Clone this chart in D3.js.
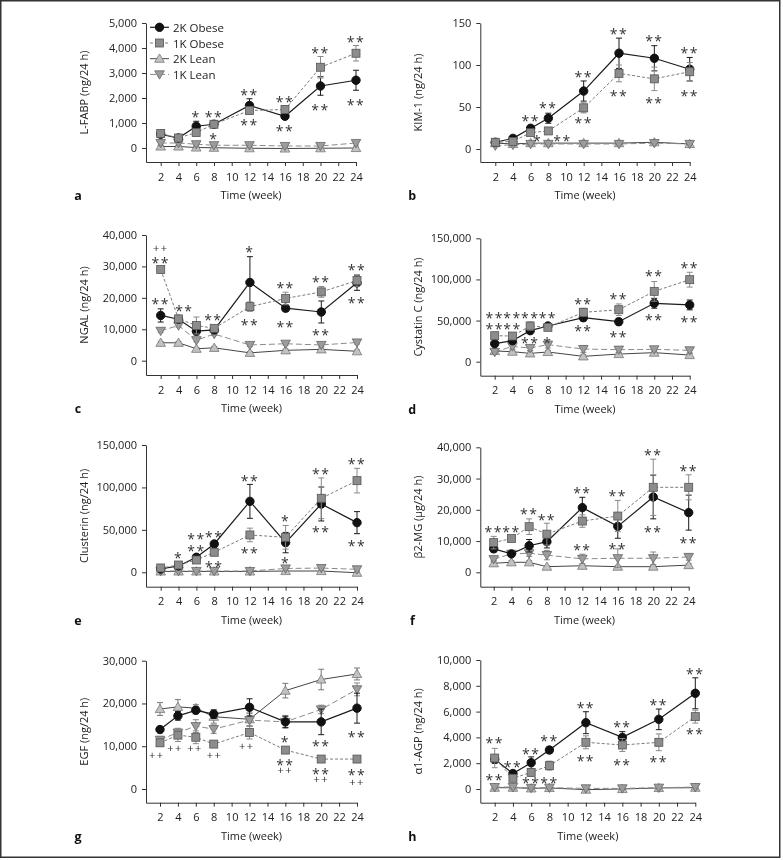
<!DOCTYPE html>
<html><head><meta charset="utf-8">
<script src="https://cdn.jsdelivr.net/npm/d3@7"></script>
<style>
body{margin:0;background:#fff;}
svg{display:block;font-family:"Open Sans",sans-serif;will-change:transform;}
</style></head>
<body><svg id="c" width="783" height="860"></svg>
<script>
const weeks = [2,4,6,8,12,16,20,24];
const xTickValues = [2,4,6,8,10,12,14,16,18,20,22,24];
const seriesNames = ["2K Obese","1K Obese","2K Lean","1K Lean"];

const lfabpMean = [[550,400,870,950,1700,1270,2480,2710],[580,400,620,950,1500,1540,3230,3790],[60,60,20,10,-10,-20,-10,0],[200,200,150,110,110,80,80,200]];
const lfabpErr  = [[60,50,200,80,270,100,370,400],[60,60,100,80,150,150,430,310],[40,40,40,40,40,40,40,40],[80,80,60,50,50,40,40,80]];
const lfabpTicks = [0,1000,2000,3000,4000,5000];
const lfabpSig = [[6,1380,"*"],[8,1380,"**"],[8,510,"*"],[12,2280,"**"],[12,1060,"**"],[16,1970,"**"],[16,820,"**"],[20,3950,"**"],[20,1680,"**"],[24,4400,"**"],[24,1850,"**"]];

const kimMean = [[8,12.7,24.7,36.6,69,114,108,95],[8,9,19.5,21.5,49,90,83.5,92],[7,6,7,7,7,7,8,6],[4,5,6,6,6,6,7,6]];
const kimErr  = [[1,2,3,6,12,18,15,14],[1,1,2,2,6,10,14,11],[1,1,1,1,1,1,1,1],[1,1,1,1,1,1,1,1]];
const kimTicks = [0,50,100,150];
const kimSig = [[6,37.4,"**"],[8,52.9,"**"],[6.8,13.9,"*"],[9.6,13.9,"**"],[12,90.3,"**"],[12,34.6,"**"],[16,140.9,"**"],[16,67.6,"**"],[20,132.9,"**"],[20,59.3,"**"],[24,119,"**"],[24,67.6,"**"]];

const ngalMean = [[14400,13200,9400,9800,24900,16700,15500,24800],[29000,13300,11200,10300,17200,19800,21900,25500],[5700,5700,3800,4100,2500,3300,3600,3000],[9500,11200,6500,8500,5000,5400,5000,5800]];
const ngalErr  = [[2100,800,1200,900,8200,1000,3500,2400],[800,700,2700,900,1500,2000,1700,1800],[400,400,400,400,400,400,400,400],[500,500,500,500,500,500,500,500]];
const ngalTicks = [0,10000,20000,30000,40000];
const ngalSig = [[2,35800,"++"],[2,32300,"**"],[2,19100,"**"],[4.65,16900,"**"],[7.9,14200,"**"],[12,35800,"*"],[12,12600,"**"],[16,24100,"**"],[16,11700,"**"],[20,26200,"**"],[20,9400,"**"],[24,29900,"**"],[24,19500,"**"]];

const cysMean = [[21900,25500,37700,43400,53500,48600,71000,69000],[31600,31200,43400,41800,60000,63200,85500,99700],[13000,12200,10100,11800,6500,9300,11000,8100],[11800,18600,16600,20700,15400,14600,15000,13800]];
const cysErr  = [[2000,2000,3000,3000,4000,4000,6000,6000],[3000,3000,5000,4000,5000,7000,12000,9000],[2000,2000,3000,2000,2000,2000,2000,2000],[2000,3000,3000,4000,4000,3000,3000,3000]];
const cysTicks = [0,50000,100000,150000];
const cysSig = [[2,57600,"**"],[4,57600,"**"],[6,57600,"**"],[8,57600,"**"],[2,44600,"**"],[4,44600,"**"],[6,27200,"**"],[8,27200,"*"],[12,73800,"**"],[12,41300,"**"],[16,80300,"**"],[16,34500,"**"],[20,108200,"**"],[20,54700,"**"],[24,117600,"**"],[24,52700,"**"]];

const cluMean = [[3900,7500,17700,33400,83600,35000,80500,58500],[5100,8600,14500,23600,44000,41200,87200,108000],[1000,1000,1000,1000,1000,1500,1500,-500],[1500,1500,1500,1500,1500,4500,5000,3500]];
const cluErr  = [[1000,1500,2000,3000,20000,12000,20000,13000],[1000,2000,3000,4000,8000,14000,24000,14500],[800,800,800,800,800,800,800,2000],[800,800,800,800,800,2000,2000,3000]];
const cluTicks = [0,50000,100000,150000];
const cluSig = [[4,21200,"*"],[6,42800,"**"],[8,45900,"**"],[6,29400,"**"],[8,10600,"**"],[12,111500,"**"],[12,26300,"**"],[16,64800,"*"],[16,14500,"*"],[20,120500,"**"],[20,51800,"**"],[24,132300,"**"],[24,34900,"**"]];

const b2mMean = [[7500,5900,8500,9800,20700,14700,24100,19100],[9500,10800,14600,12200,16400,18000,27200,27200],[2900,3200,3200,1800,2100,1800,1800,2300],[4200,5900,6100,5500,4300,4500,4500,4900]];
const b2mErr  = [[1000,600,2000,2000,3300,3800,7000,5600],[2000,600,2500,3500,2000,5000,9000,4000],[800,500,500,300,300,300,300,500],[800,800,1000,1500,1500,3000,2000,1000]];
const b2mTicks = [0,10000,20000,30000,40000];
const b2mSig = [[2,14100,"**"],[4,14100,"**"],[6,19700,"**"],[8,18000,"**"],[12,26600,"**"],[12,8200,"**"],[16,25600,"**"],[16,8700,"**"],[20,38600,"**"],[20,13900,"**"],[24,33600,"**"],[24,10600,"**"]];

const egfMean = [[13900,17100,18400,17500,19100,15700,15700,18900],[10800,12600,12100,10500,13200,9100,7000,7000],[18700,19200,18900,16900,16300,23000,25600,26900],[11500,13200,14700,14000,16100,15700,18600,23300]];
const egfErr  = [[500,1000,800,1000,2000,1300,3000,3500],[800,1500,1500,700,1500,500,400,400],[1500,1700,800,1500,1500,1700,2400,1400],[800,1000,1500,1000,1500,1500,1000,1500]];
const egfTicks = [0,10000,20000,30000];
const egfSig = [[1.63,7950,"++"],[3.67,9660,"++"],[5.9,9660,"++"],[8.1,7950,"++"],[11.7,10050,"++"],[16,11700,"*"],[16,6400,"**"],[16,4440,"++"],[20,10900,"**"],[20,4440,"**"],[20,2260,"++"],[24,13000,"**"],[24,4200,"**"],[24,1700,"++"]];

const agpMean = [[2300,1200,2040,3020,5140,4000,5400,7420],[2400,830,1290,1810,3620,3410,3620,5610],[100,100,50,80,-50,0,80,100],[150,150,80,100,50,50,100,150]];
const agpErr  = [[300,200,450,250,850,450,800,1200],[750,250,300,350,500,500,650,500],[100,100,100,100,100,100,100,100],[150,150,100,100,100,100,100,150]];
const agpTicks = [0,2000,4000,6000,8000,10000];
const agpSig = [[2,3800,"**"],[2,1000,"**"],[4,1940,"**"],[6,700,"**"],[8,700,"**"],[6,2970,"**"],[8,3980,"**"],[12,6560,"**"],[12,2450,"**"],[16,5090,"**"],[16,2170,"**"],[20,6770,"**"],[20,2330,"**"],[24,9220,"**"],[24,4500,"**"]];

// layout (pixels) kept separate from data
const panels = [
 {letter:"a",title:"L-FABP (ng/24 h)",mean:lfabpMean,err:lfabpErr,ticks:lfabpTicks,sig:lfabpSig,ax:146,x2:160.7,x24:356,top:23,zero:148,bottom:162,legend:true},
 {letter:"b",title:"KIM-1 (ng/24 h)",mean:kimMean,err:kimErr,ticks:kimTicks,sig:kimSig,ax:480.3,x2:495.3,x24:689.7,top:23,zero:149,bottom:162},
 {letter:"c",title:"NGAL (ng/24 h)",mean:ngalMean,err:ngalErr,ticks:ngalTicks,sig:ngalSig,ax:146,x2:160.7,x24:357,top:235,zero:360.7,bottom:375},
 {letter:"d",title:"Cystatin C (ng/24 h)",mean:cysMean,err:cysErr,ticks:cysTicks,sig:cysSig,ax:480.3,x2:494.7,x24:689.7,top:238.3,zero:361.7,bottom:375.7},
 {letter:"e",title:"Clusterin (ng/24 h)",mean:cluMean,err:cluErr,ticks:cluTicks,sig:cluSig,ax:146,x2:160.7,x24:357,top:445,zero:572.3,bottom:586.7},
 {letter:"f",title:"β2-MG (μg/24 h)",mean:b2mMean,err:b2mErr,ticks:b2mTicks,sig:b2mSig,ax:480.3,x2:493.7,x24:688.7,top:447.3,zero:572.3,bottom:586.7},
 {letter:"g",title:"EGF (ng/24 h)",mean:egfMean,err:egfErr,ticks:egfTicks,sig:egfSig,ax:146,x2:160,x24:357,top:660.7,zero:789,bottom:802.7},
 {letter:"h",title:"α1-AGP (ng/24 h)",mean:agpMean,err:agpErr,ticks:agpTicks,sig:agpSig,ax:480.3,x2:494.7,x24:695.3,top:660,zero:789,bottom:802.7}
];

const styles = [
 {line:"#1a1a1a",dash:null,w:1.2,errC:"#1a1a1a",shape:"circle",fill:"#111",stroke:"#111"},
 {line:"#7a7a7a",dash:"3,2",w:1,errC:"#8a8a8a",shape:"square",fill:"#8c8c8c",stroke:"#555"},
 {line:"#444",dash:null,w:1,errC:"#777",shape:"up",fill:"#c2c2c2",stroke:"#777"},
 {line:"#8a8a8a",dash:"6,3",w:1,errC:"#888",shape:"down",fill:"#9c9c9c",stroke:"#666"}
];
const drawOrder = [2,3,0,1];

const svg = d3.select("#c");
svg.append("rect").attr("x",0.75).attr("y",0.75).attr("width",779).attr("height",856.5)
  .attr("fill","none").attr("stroke","#333").attr("stroke-width",1.5);

function marker(g, shape, x, y, st){
  if(shape==="circle") g.append("circle").attr("cx",x).attr("cy",y).attr("r",4.2).attr("fill",st.fill).attr("stroke",st.stroke);
  else if(shape==="square") g.append("rect").attr("x",x-4).attr("y",y-4).attr("width",8).attr("height",8).attr("fill",st.fill).attr("stroke",st.stroke).attr("stroke-width",0.8);
  else {
    const p = g.append("path").attr("d",d3.symbol().type(d3.symbolTriangle).size(40)()).attr("fill",st.fill).attr("stroke",st.stroke).attr("stroke-width",0.8);
    p.attr("transform",`translate(${x},${y+(shape==="up"?0.8:-0.8)})${shape==="down"?" rotate(180)":""}`);
  }
}

panels.forEach(P=>{
  const g = svg.append("g");
  const max = P.ticks[P.ticks.length-1];
  const lo = -max*(P.bottom-P.zero)/(P.zero-P.top);
  const y = d3.scaleLinear().domain([lo,max]).range([P.bottom,P.top]);
  const xlo = 2-(P.x2-P.ax)/(P.x24-P.x2)*22;
  const x = d3.scaleLinear().domain([xlo,24]).range([P.ax,P.x24]);

  const ya = g.append("g").attr("transform",`translate(${P.ax},0)`)
    .call(d3.axisLeft(y).tickValues(P.ticks).tickFormat(d3.format(",")).tickSize(4).tickSizeOuter(0).tickPadding(5));
  const xa = g.append("g").attr("transform",`translate(0,${P.bottom})`)
    .call(d3.axisBottom(x).tickValues(xTickValues).tickSize(4).tickSizeOuter(0).tickPadding(7));
  [ya,xa].forEach(a=>{
    a.selectAll("path,line").attr("stroke","#333");
    a.selectAll("text").attr("font-size",11).attr("fill","#222").attr("font-family","Open Sans");
  });

  g.append("text").attr("x",(P.ax+P.x24)/2).attr("y",P.bottom+37).attr("text-anchor","middle")
    .attr("font-size",11).attr("fill","#222").text("Time (week)");
  g.append("text").attr("x",P.ax-68).attr("y",P.bottom+38).attr("text-anchor","middle")
    .attr("font-size",12.5).attr("font-weight","bold").attr("fill","#111").text(P.letter);
  g.append("text").attr("transform",`translate(${P.ax-63},${(P.top+P.bottom)/2}) rotate(-90)`)
    .attr("text-anchor","middle").attr("dominant-baseline","central")
    .attr("font-size",11).attr("fill","#222").text(P.title);

  drawOrder.forEach(si=>{
    const st = styles[si];
    const vals = P.mean[si], errs = P.err[si];
    const sg = g.append("g");
    sg.append("path").datum(weeks.map((w,i)=>[w,vals[i]]))
      .attr("d",d3.line().x(d=>x(d[0])).y(d=>y(d[1])))
      .attr("fill","none").attr("stroke",st.line).attr("stroke-width",st.w)
      .attr("stroke-dasharray",st.dash);
    weeks.forEach((w,i)=>{
      const e = errs[i];
      if(!e) return;
      const cx = x(w), y1 = y(vals[i]+e), y2 = y(vals[i]-e);
      sg.append("line").attr("x1",cx).attr("x2",cx).attr("y1",y1).attr("y2",y2).attr("stroke",st.errC).attr("stroke-width",1);
      [y1,y2].forEach(yy=>sg.append("line").attr("x1",cx-3).attr("x2",cx+3).attr("y1",yy).attr("y2",yy).attr("stroke",st.errC).attr("stroke-width",1));
    });
    weeks.forEach((w,i)=>marker(sg, st.shape, x(w), y(vals[i]), st));
  });

  P.sig.forEach(([w,v,t])=>{
    const isPlus = t[0]==="+";
    g.append("text").attr("x",x(w)).attr("y",y(v)+(isPlus?4:8.5))
      .attr("text-anchor","middle").attr("font-size",isPlus?11:14)
      .attr("letter-spacing",isPlus?1.5:1.5).attr("fill","#333").text(t);
  });

  if(P.legend){
    seriesNames.forEach((n,i)=>{
      const st = styles[i];
      const ly = P.top+4.3+i*15.7;
      const lg = g.append("g");
      lg.append("line").attr("x1",P.ax+4).attr("x2",P.ax+23).attr("y1",ly).attr("y2",ly)
        .attr("stroke",st.line).attr("stroke-width",st.w).attr("stroke-dasharray",st.dash);
      marker(lg, st.shape, P.ax+13.5, ly, st);
      lg.append("text").attr("x",P.ax+27).attr("y",ly).attr("dominant-baseline","central")
        .attr("font-size",11.5).attr("fill","#222").text(n);
    });
  }
});
</script></body></html>
